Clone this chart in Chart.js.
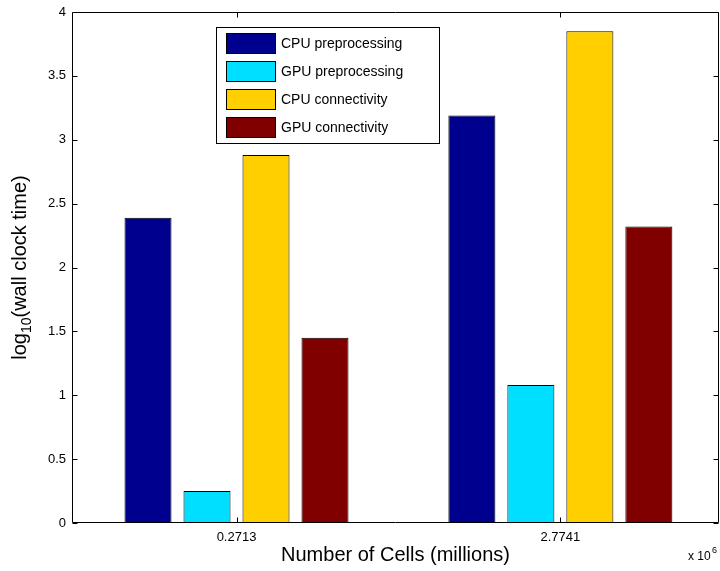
<!DOCTYPE html>
<html>
<head>
<meta charset="utf-8">
<title>Wall clock time</title>
<script src="https://cdn.jsdelivr.net/npm/chart.js@4/dist/chart.umd.min.js"></script>
<style>
  html, body { margin: 0; padding: 0; background: #ffffff; }
  #wrap { width: 720px; height: 571px; position: relative; }
</style>
</head>
<body>
<div id="wrap"><canvas id="chart" width="720" height="571"></canvas></div>
<script>
// Mesh sizes (number of cells, in units of 10^6)
const cellCounts = [0.2713, 2.7741];
// log10 of wall clock time per stage
const cpuPreprocessing = [2.39, 3.19];
const gpuPreprocessing = [0.25, 1.08];
const cpuConnectivity  = [2.88, 3.85];
const gpuConnectivity  = [1.45, 2.32];
const seriesNames = ['CPU preprocessing', 'GPU preprocessing', 'CPU connectivity', 'GPU connectivity'];
const seriesColors = ['#00008f', '#00dfff', '#ffcf00', '#800000'];
const yTickValues = [0, 0.5, 1, 1.5, 2, 2.5, 3, 3.5, 4];

const FONT = '"Liberation Sans", Arial, Helvetica, sans-serif';
const INK = '#000000';

const toPoints = vals => cellCounts.map((x, i) => ({ x: x, y: vals[i] }));
const seriesValues = [cpuPreprocessing, gpuPreprocessing, cpuConnectivity, gpuConnectivity];

const datasets = seriesValues.map((vals, i) => ({
  label: seriesNames[i],
  data: toPoints(vals),
  backgroundColor: seriesColors[i],
  borderColor: '#000000',
  borderWidth: 1,
  borderSkipped: false,
  categoryPercentage: 0.7286,
  barPercentage: 0.797
}));

// Box, inward tick marks, in-plot legend, axis titles and the exponent note
const decorations = {
  id: 'decorations',
  afterDraw(chart) {
    const ctx = chart.ctx;
    const a = chart.chartArea;
    const xs = chart.scales.x, ys = chart.scales.y;
    const L = Math.round(a.left) + 0.5, R = Math.round(a.right) - 0.5;
    const T = Math.round(a.top) + 0.5, B = Math.round(a.bottom) - 0.5;
    const tl = 5;
    ctx.save();
    ctx.strokeStyle = INK;
    ctx.lineWidth = 1;
    ctx.beginPath();
    ctx.rect(L, T, R - L, B - T);
    // y ticks on both sides
    yTickValues.forEach(v => {
      const y = Math.round(ys.getPixelForValue(v)) + 0.5;
      ctx.moveTo(L, y); ctx.lineTo(L + tl, y);
      ctx.moveTo(R, y); ctx.lineTo(R - tl, y);
    });
    // x ticks top and bottom
    cellCounts.forEach(v => {
      const x = Math.round(xs.getPixelForValue(v)) + 0.5;
      ctx.moveTo(x, B); ctx.lineTo(x, B - tl);
      ctx.moveTo(x, T); ctx.lineTo(x, T + tl);
    });
    ctx.stroke();

    // legend
    const lx = 216.5, ly = 27.5, lw = 223, lh = 116;
    ctx.fillStyle = '#ffffff';
    ctx.fillRect(lx, ly, lw, lh);
    ctx.strokeStyle = INK;
    ctx.strokeRect(lx, ly, lw, lh);
    ctx.font = '14px ' + FONT;
    ctx.textBaseline = 'middle';
    ctx.textAlign = 'left';
    chart.data.datasets.forEach((ds, i) => {
      const sy = 33 + i * 28;
      ctx.fillStyle = ds.backgroundColor;
      ctx.fillRect(226, sy, 50, 21);
      ctx.strokeStyle = '#000000';
      ctx.strokeRect(226.5, sy + 0.5, 49, 20);
      ctx.fillStyle = INK;
      ctx.fillText(ds.label, 281, sy + 11);
    });

    // x axis title
    ctx.fillStyle = INK;
    ctx.font = '20px ' + FONT;
    ctx.textAlign = 'center';
    ctx.textBaseline = 'alphabetic';
    ctx.fillText('Number of Cells (millions)', (a.left + a.right) / 2, 561);

    // y axis title with subscript
    const big = '20px ' + FONT, small = '14px ' + FONT;
    ctx.font = big;
    const w1 = ctx.measureText('log').width;
    const w3 = ctx.measureText('(wall clock time)').width;
    ctx.font = small;
    const w2 = ctx.measureText('10').width;
    const total = w1 + w2 + w3;
    ctx.translate(26, (a.top + a.bottom) / 2);
    ctx.rotate(-Math.PI / 2);
    ctx.textAlign = 'left';
    let px = -total / 2;
    ctx.font = big; ctx.fillText('log', px, 0); px += w1;
    ctx.font = small; ctx.fillText('10', px, 5); px += w2;
    ctx.font = big; ctx.fillText('(wall clock time)', px, 0);
    ctx.setTransform(1, 0, 0, 1, 0, 0);

    // exponent note under the right end of the x axis
    ctx.font = '12px ' + FONT;
    ctx.textAlign = 'left';
    ctx.fillText('x 10', 688, 560);
    ctx.font = '9px ' + FONT;
    ctx.fillText('6', 712, 553);
    ctx.restore();
  }
};

new Chart(document.getElementById('chart'), {
  type: 'bar',
  data: { datasets: datasets },
  options: {
    responsive: false,
    animation: false,
    devicePixelRatio: 1,
    layout: { padding: { top: 12, right: 1, left: 0, bottom: 0 } },
    plugins: { legend: { display: false }, tooltip: { enabled: false } },
    scales: {
      x: {
        type: 'linear',
        min: -1,
        max: 4,
        offset: false,
        grid: { display: false, drawTicks: false },
        border: { display: false },
        afterBuildTicks(axis) { axis.ticks = cellCounts.map(v => ({ value: v })); },
        afterFit(scale) { scale.height = 48; scale.paddingLeft = 0; scale.paddingRight = 0; },
        ticks: {
          autoSkip: false,
          maxRotation: 0,
          padding: 7,
          color: INK,
          font: { family: FONT, size: 13 },
          callback: v => Number(v).toFixed(4)
        }
      },
      y: {
        min: 0,
        max: 4,
        grid: { display: false, drawTicks: false },
        border: { display: false },
        afterBuildTicks(axis) { axis.ticks = yTickValues.map(v => ({ value: v })); },
        afterFit(scale) { scale.width = 72; scale.paddingTop = 0; scale.paddingBottom = 0; },
        ticks: {
          padding: 6,
          color: INK,
          font: { family: FONT, size: 13 },
          callback: v => String(v)
        }
      }
    }
  },
  plugins: [decorations]
});
</script>
</body>
</html>
